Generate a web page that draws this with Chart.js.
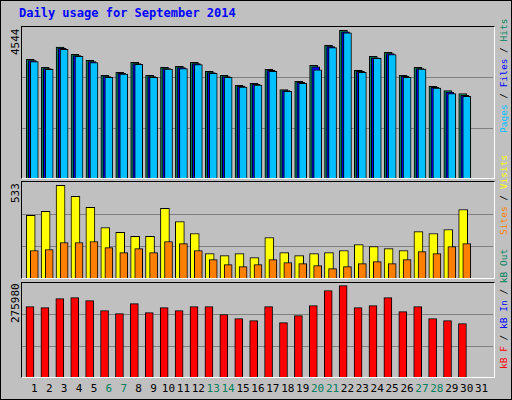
<!DOCTYPE html>
<html>
<head>
<meta charset="utf-8" />
<title>Daily usage</title>
<script src="https://cdn.jsdelivr.net/npm/chart.js"></script>
<style>
    body { margin: 0; background: #c0c0c0; }
    #frame {
        position: relative; width: 512px; height: 400px; box-sizing: border-box;
        border: 1px solid #000; background: #c0c0c0;
        font-family: "DejaVu Sans Mono", monospace;
    }
    .box { position: absolute; left: 20px; width: 474px; box-sizing: border-box;
        border-top: 1px solid #000; border-left: 1px solid #000;
        border-right: 1px solid #fff; border-bottom: 1px solid #fff; }
    canvas { position: absolute; left: 21px; }
    .vert { position: absolute; writing-mode: vertical-rl; transform: rotate(180deg); white-space: nowrap; }
    #title { position: absolute; left: 18px; top: 5px; color: #0000ff; font-weight: bold; font-size: 12px; }
    .day { position: absolute; top: 381px; width: 20px; margin-left: -10px; text-align: center; font-size: 11px; }
</style>
</head>
<body>
<div id="frame">
    <div id="title">Daily usage for September 2014</div>
    <div class="box" style="top:25px;height:153px"></div>
    <div class="box" style="top:180px;height:98px"></div>
    <div class="box" style="top:281px;height:96px"></div>
    <canvas id="c1" width="471" height="151" style="top:26px"></canvas>
    <canvas id="c2" width="471" height="96" style="top:181px"></canvas>
    <canvas id="c3" width="471" height="94" style="top:282px"></canvas>

    <div class="vert" style="left:8px;top:28px;height:40px;text-align:end;font-size:11px">4544</div>
    <div class="vert" style="left:8px;top:182px;height:40px;text-align:end;font-size:11px">533</div>
    <div class="vert" style="left:8px;top:282px;height:60px;text-align:end;font-size:11px">275980</div>

    <div class="vert" style="left:497px;top:28px;height:104px;font-size:9.5px">
        <span style="color:#00c0ff">Pages</span> / <span style="color:#0000ff">Files</span> / <span style="color:#00805c">Hits</span></div>
    <div class="vert" style="left:497px;top:178px;height:56px;font-size:9.5px">
        <span style="color:#ff8000">Sites</span> / <span style="color:#ffff00">Visits</span></div>
    <div class="vert" style="left:497px;top:236px;height:132px;font-size:9.5px">
        <span style="color:#ff0000">kB F</span> / <span style="color:#0000ff">kB In</span> / <span style="color:#00805c">kB Out</span></div>
    <div id="days"></div>
</div>
<script>
    const days = Array.from({length: 31}, (_, i) => i + 1);
    const weekends = [6, 7, 13, 14, 20, 21, 27, 28];

    const hits  = [3649,3403,4030,3804,3619,3156,3249,3557,3156,3403,3434,3557,3280,3156,2848,2909,3341,2724,2971,3464,4081,4544,3310,3742,3865,3156,3403,2817,2693,2601];
    const files = [3610,3370,3990,3770,3580,3120,3220,3520,3120,3370,3400,3520,3240,3120,2820,2880,3310,2690,2940,3420,4040,4500,3280,3700,3830,3130,3370,2790,2640,2540];
    const pages = [3580,3340,3960,3740,3550,3100,3200,3500,3100,3350,3370,3490,3220,3100,2800,2860,3280,2670,2910,3330,4010,4470,3250,3680,3800,3100,3350,2770,2600,2510];
    const visits = [360,383,533,469,406,290,262,239,239,400,325,256,140,129,140,117,233,146,129,140,146,158,192,181,169,158,267,256,279,394];
    const sites  = [158,164,204,204,210,175,146,169,146,210,198,158,106,77,65,77,106,88,83,71,54,65,83,94,83,106,152,140,181,198];
    const kbytes = [212500,209500,236700,239700,230600,200400,191400,221600,194400,209500,200400,212500,212500,188300,176300,170200,212500,164200,185300,215500,260900,275980,209500,215500,239700,197400,212500,176300,170200,161100];

    // day labels
    const daysEl = document.getElementById('days');
    days.forEach(d => {
        const el = document.createElement('div');
        el.className = 'day';
        el.style.left = (33.3 + (d - 1) * 14.91) + 'px';
        el.style.color = weekends.includes(d) ? '#00805c' : '#000';
        el.textContent = d;
        daysEl.appendChild(el);
    });

    const thirdsGrid = {
        id: 'thirdsGrid',
        beforeDatasetsDraw(chart) {
            const { ctx, chartArea, scales } = chart;
            const max = scales.y.max;
            ctx.save();
            ctx.strokeStyle = '#808080';
            ctx.lineWidth = 1;
            [max / 3, 2 * max / 3].forEach(v => {
                const y = Math.round(scales.y.getPixelForValue(v)) + 0.5;
                ctx.beginPath();
                ctx.moveTo(chartArea.left, y);
                ctx.lineTo(chartArea.right, y);
                ctx.stroke();
            });
            ctx.restore();
        }
    };

    function series(values, shift, color, thickness, order) {
        return {
            data: values.map((v, i) => ({ x: days[i] + shift, y: v })),
            backgroundColor: color,
            borderColor: '#000',
            borderWidth: 1,
            barThickness: thickness,
            grouped: false,
            order: order
        };
    }

    function makeChart(id, datasets, ymax) {
        new Chart(document.getElementById(id), {
            type: 'bar',
            data: { datasets },
            options: {
                responsive: false,
                animation: false,
                devicePixelRatio: 1,
                layout: { padding: 0 },
                plugins: { legend: { display: false }, tooltip: { enabled: false } },
                scales: {
                    x: { type: 'linear', min: 0.175, max: 31.76, offset: false, display: false },
                    y: { min: 0, max: ymax, display: false }
                }
            },
            plugins: [thirdsGrid]
        });
    }

    makeChart('c1', [
        series(hits, -0.27, '#00805c', 8, 2),
        series(files, -0.13, '#0000ff', 8, 1),
        series(pages, 0, '#00c0ff', 8, 0)
    ], 4646);
    makeChart('c2', [
        series(visits, -0.24, '#ffff00', 9, 1),
        series(sites, 0, '#ff8000', 8, 0)
    ], 552);
    makeChart('c3', [
        series(kbytes, -0.29, '#ff0000', 8, 0)
    ], 283830);
</script>
</body>
</html>
